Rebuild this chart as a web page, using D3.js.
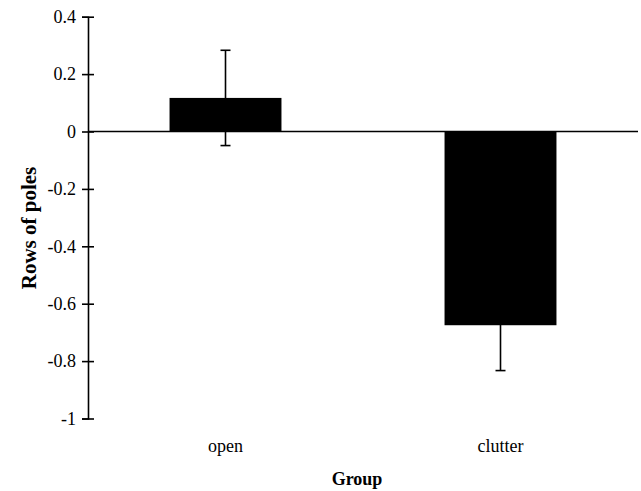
<!DOCTYPE html>
<html>
<head>
<meta charset="utf-8">
<script src="https://cdn.jsdelivr.net/npm/d3@7"></script>
<style>
  html, body { margin: 0; padding: 0; background: #fff; }
  svg { display: block; }
  svg text { font-family: "Liberation Serif", "Times New Roman", serif; fill: #000; }
</style>
</head>
<body>
<svg id="chart" width="641" height="491"></svg>
<script>
// Mean change in rows of poles per group, with error half-widths
const groups = ["open", "clutter"];
const means = [0.117, -0.675];
const errors = [0.166, 0.158];
const yTicks = [0.4, 0.2, 0, -0.2, -0.4, -0.6, -0.8, -1];
const yTickLabels = ["0.4", "0.2", "0", "-0.2", "-0.4", "-0.6", "-0.8", "-1"];

const svg = d3.select("#chart");

const x = d3.scaleBand()
  .domain(groups)
  .range([88, 638])
  .paddingInner(0.593)
  .paddingOuter(0.2965);

const y = d3.scaleLinear()
  .domain([-1, 0.4])
  .range([418.5, 16.7]);

// Bars
svg.append("g")
  .selectAll("rect")
  .data(groups)
  .join("rect")
  .attr("x", d => x(d))
  .attr("width", x.bandwidth())
  .attr("y", (d, i) => y(Math.max(0, means[i])))
  .attr("height", (d, i) => Math.abs(y(means[i]) - y(0)))
  .attr("fill", "#000");

// Zero baseline across the plot
svg.append("line")
  .attr("x1", 88).attr("x2", 638)
  .attr("y1", y(0)).attr("y2", y(0))
  .attr("stroke", "#000").attr("stroke-width", 1.5);

// Error bars
const eb = svg.append("g").attr("stroke", "#000").attr("stroke-width", 1.6);
groups.forEach((g, i) => {
  const cx = x(g) + x.bandwidth() / 2;
  const hi = y(means[i] + errors[i]);
  const lo = y(means[i] - errors[i]);
  eb.append("line").attr("x1", cx).attr("x2", cx).attr("y1", hi).attr("y2", lo);
  eb.append("line").attr("x1", cx - 5).attr("x2", cx + 5).attr("y1", hi).attr("y2", hi);
  eb.append("line").attr("x1", cx - 5).attr("x2", cx + 5).attr("y1", lo).attr("y2", lo);
});

// Y axis with ticks crossing the axis line
const yAxis = d3.axisLeft(y)
  .tickValues(yTicks)
  .tickFormat((d, i) => yTickLabels[i])
  .tickSizeOuter(0)
  .tickSize(6)
  .tickPadding(6);

const ya = svg.append("g")
  .attr("transform", "translate(88,0)")
  .call(yAxis);
ya.attr("font-family", null).attr("font-size", null);
ya.select(".domain").attr("stroke", "#000").attr("stroke-width", 1.6);
ya.selectAll(".tick line").attr("x1", 6).attr("x2", -6).attr("stroke", "#000").attr("stroke-width", 1.6);
ya.selectAll(".tick text")
  .attr("font-size", 18)
  .style("font-size", "18px")
  .style("font-family", "'Liberation Serif', 'Times New Roman', serif");

// Category labels
svg.append("g")
  .selectAll("text")
  .data(groups)
  .join("text")
  .attr("x", d => x(d) + x.bandwidth() / 2)
  .attr("y", 452)
  .attr("text-anchor", "middle")
  .style("font-size", "18px")
  .text(d => d);

// Axis titles
svg.append("text")
  .attr("x", 357).attr("y", 485)
  .attr("text-anchor", "middle")
  .style("font-size", "18px")
  .style("font-weight", "bold")
  .text("Group");

svg.append("text")
  .attr("transform", "translate(36,228) rotate(-90)")
  .attr("text-anchor", "middle")
  .style("font-size", "21px")
  .style("font-weight", "bold")
  .text("Rows of poles");
</script>
</body>
</html>
